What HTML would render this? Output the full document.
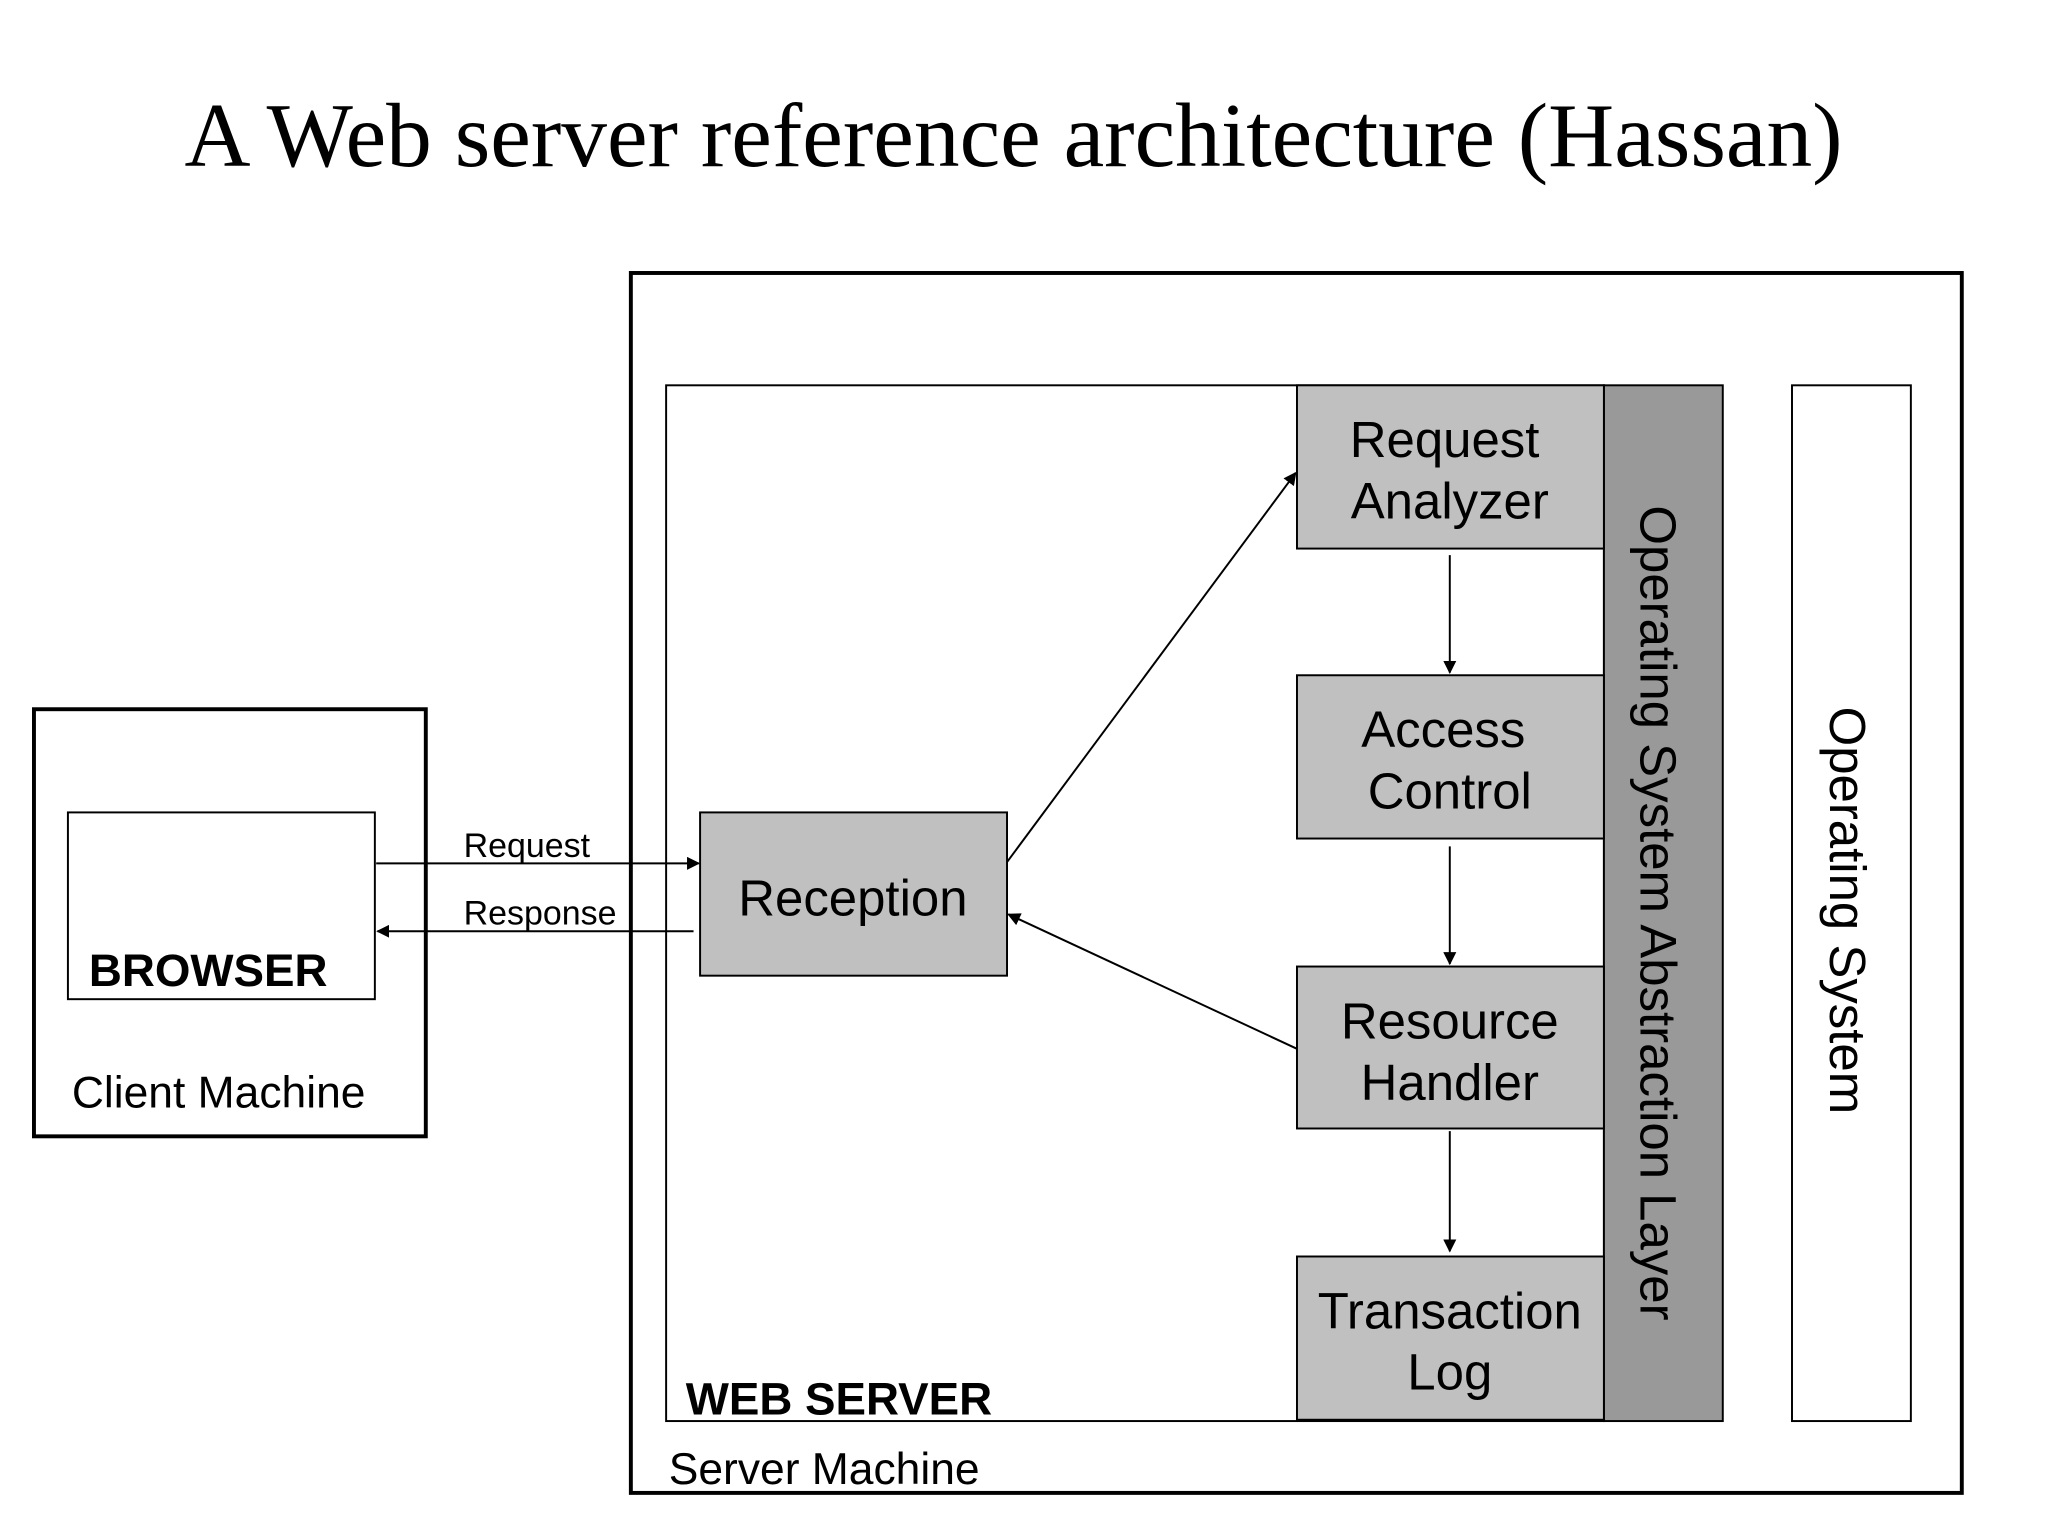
<!DOCTYPE html>
<html><head><style>html,body{margin:0;padding:0;background:#fff;width:2048px;height:1536px;overflow:hidden}</style></head>
<body>
<svg width="2048" height="1536" viewBox="0 0 1568 1176" xmlns="http://www.w3.org/2000/svg" font-family="Liberation Sans, Arial, sans-serif">
<defs><marker id="a" markerWidth="10" markerHeight="10" refX="9" refY="5" orient="auto" markerUnits="userSpaceOnUse"><path d="M0,0 L10,5 L0,10 z" fill="#000"/></marker></defs>
<rect width="1568" height="1176" fill="#fff"/>
<text x="776" y="127" text-anchor="middle" font-family="Liberation Serif, serif" font-size="70">A Web server reference architecture (Hassan)</text>
<rect x="483" y="209" width="1019" height="934" fill="none" stroke="#000" stroke-width="3"/>
<rect x="510" y="295" width="718" height="793" fill="none" stroke="#000" stroke-width="1.5"/>
<rect x="1228" y="295" width="91" height="793" fill="#999" stroke="#000" stroke-width="1.5"/>
<rect x="1372" y="295" width="91" height="793" fill="none" stroke="#000" stroke-width="1.5"/>
<text transform="translate(1256,699) rotate(90)" text-anchor="middle" font-size="39">Operating System Abstraction Layer</text>
<text transform="translate(1401,697) rotate(90)" text-anchor="middle" font-size="39">Operating System</text>
<g fill="#c0c0c0" stroke="#000" stroke-width="1.5">
<rect x="993" y="295" width="235" height="125"/>
<rect x="993" y="517" width="235" height="125"/>
<rect x="993" y="740" width="235" height="124"/>
<rect x="993" y="962" width="235" height="125"/>
<rect x="536" y="622" width="235" height="125"/>
</g>
<g font-size="39" text-anchor="middle">
<text x="1106" y="350">Request</text><text x="1110" y="397">Analyzer</text>
<text x="1105" y="572">Access</text><text x="1110" y="619">Control</text>
<text x="1110" y="795">Resource</text><text x="1110" y="842">Handler</text>
<text x="1110" y="1017">Transaction</text><text x="1110" y="1064">Log</text>
<text x="653" y="701">Reception</text>
</g>
<rect x="26" y="543" width="300" height="327" fill="none" stroke="#000" stroke-width="3"/>
<rect x="52" y="622" width="235" height="143" fill="none" stroke="#000" stroke-width="1.5"/>
<text x="68" y="755" font-size="35" font-weight="bold">BROWSER</text>
<text x="55" y="848" font-size="34">Client Machine</text>
<text x="525" y="1083" font-size="35" font-weight="bold">WEB SERVER</text>
<text x="512" y="1136" font-size="34">Server Machine</text>
<text x="355" y="656" font-size="26">Request</text>
<text x="355" y="708" font-size="26">Response</text>
<g stroke="#000" stroke-width="1.5" marker-end="url(#a)">
<line x1="288" y1="661" x2="535" y2="661"/>
<line x1="531" y1="713" x2="289" y2="713"/>
<line x1="771" y1="660" x2="992" y2="362"/>
<line x1="993" y1="803" x2="772" y2="700"/>
<line x1="1110" y1="425" x2="1110" y2="515"/>
<line x1="1110" y1="648" x2="1110" y2="738"/>
<line x1="1110" y1="866" x2="1110" y2="958"/>
</g>
</svg>
</body></html>
